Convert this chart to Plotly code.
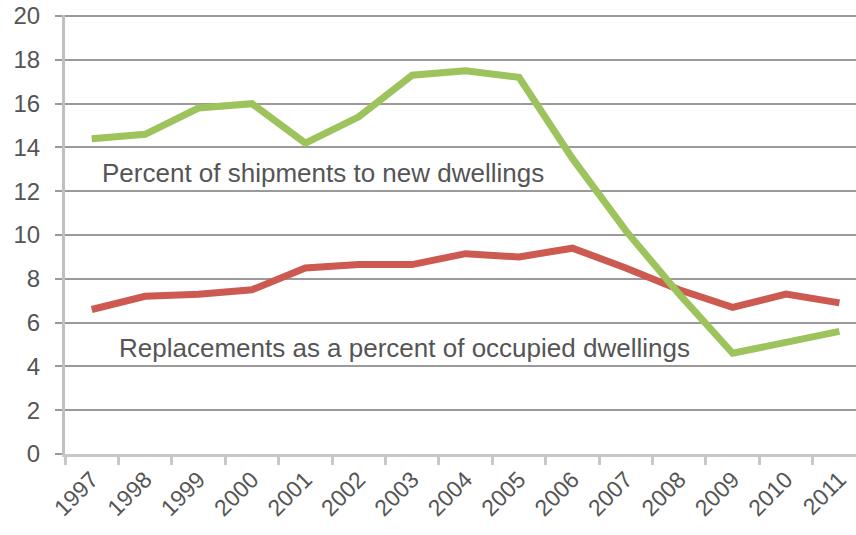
import plotly.graph_objects as go

years = ["1997", "1998", "1999", "2000", "2001", "2002", "2003", "2004",
         "2005", "2006", "2007", "2008", "2009", "2010", "2011"]
shipments_new = [14.4, 14.6, 15.8, 16.0, 14.2, 15.4, 17.3, 17.5,
                 17.2, 13.5, 10.2, 7.3, 4.6, 5.1, 5.6]
replacements = [6.6, 7.2, 7.3, 7.5, 8.5, 8.65, 8.65, 9.15,
                9.0, 9.4, 8.5, 7.5, 6.7, 7.3, 6.9]
y_ticks = [0, 2, 4, 6, 8, 10, 12, 14, 16, 18, 20]
label_new = "Percent of shipments to new dwellings"
label_repl = "Replacements as a percent of occupied dwellings"

fig = go.Figure()
fig.add_trace(go.Scatter(x=years, y=replacements, mode="lines",
                         line=dict(color="#CD5A50", width=7), hoverinfo="skip"))
fig.add_trace(go.Scatter(x=years, y=shipments_new, mode="lines",
                         line=dict(color="#9CC35C", width=7), hoverinfo="skip"))

fig.add_annotation(x=0.044, xref="paper", y=12.85, yref="y", text=label_new,
                   showarrow=False, xanchor="left", yanchor="middle",
                   font=dict(family="Liberation Sans, Arial", size=26, color="#555555"))
fig.add_annotation(x=0.066, xref="paper", y=4.85, yref="y", text=label_repl,
                   showarrow=False, xanchor="left", yanchor="middle",
                   font=dict(family="Liberation Sans, Arial", size=26, color="#555555"))

fig.update_layout(
    width=856, height=535,
    template="none",
    paper_bgcolor="white", plot_bgcolor="white",
    showlegend=False,
    margin=dict(l=65, r=0, t=15, b=81),
    font=dict(family="Liberation Sans, Arial", color="#555555"),
)
fig.update_xaxes(
    type="category", range=[-0.5, 14.31], automargin=False,
    showgrid=False, zeroline=False,
    showline=True, linecolor="#c8c8c8", linewidth=3,
    ticks="outside", ticklen=8, tickwidth=3, tickcolor="#c8c8c8",
    tickson="boundaries", tickangle=-45,
    tickfont=dict(size=23, color="#555555"),
)
fig.update_yaxes(
    range=[0, 20.05], tickvals=y_ticks, automargin=False,
    showgrid=True, gridcolor="#9a9a9a", gridwidth=2,
    zeroline=False,
    showline=True, linecolor="#c0c0c0", linewidth=3,
    ticks="outside", ticklen=7, tickwidth=2, tickcolor="#9a9a9a",
    ticklabelstandoff=10,
    tickfont=dict(size=24, color="#555555"),
)

fig.write_html("out.html",
               config={"displayModeBar": False},
               post_script="document.body.style.margin='0px';")
